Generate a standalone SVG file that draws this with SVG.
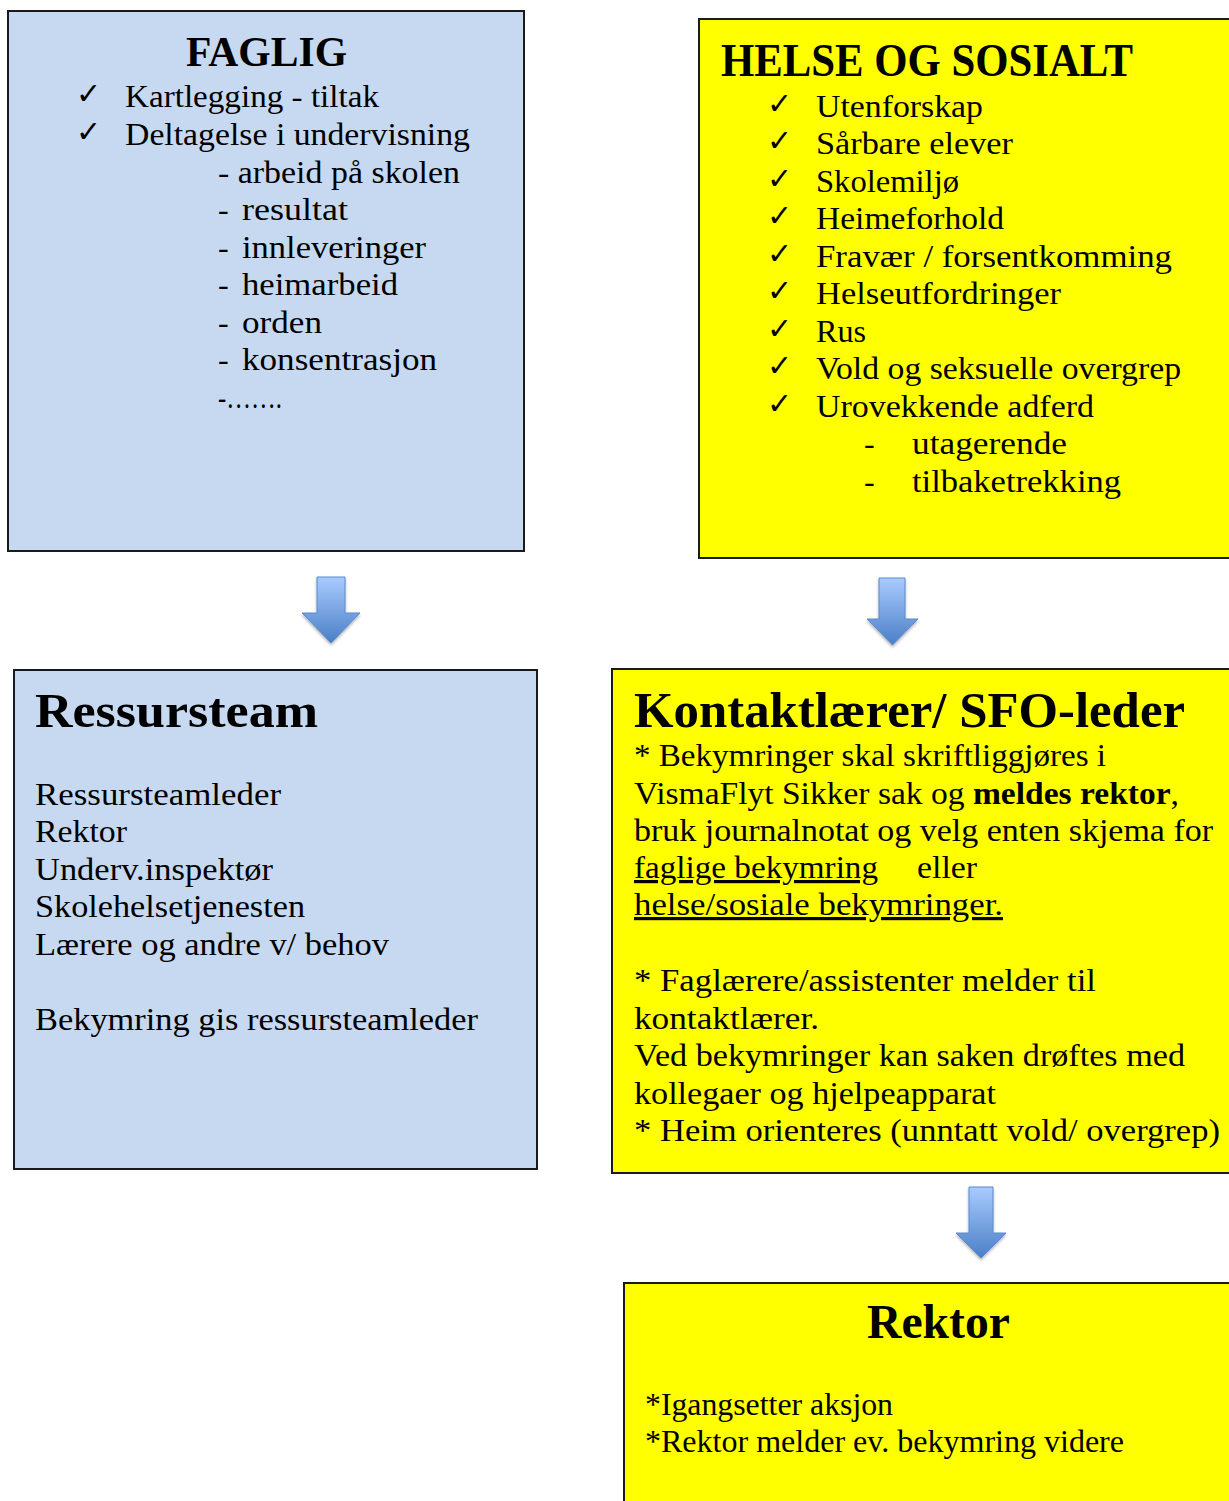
<svg xmlns="http://www.w3.org/2000/svg" width="1229" height="1501" viewBox="0 0 1229 1501">
<defs>
<style>
.box{stroke:#1a1a1a;stroke-width:2}
.blue{fill:#C6D9F1}
.yel{fill:#FFFF00}
.t{font-family:"Liberation Serif","Times New Roman",serif;font-size:32px;fill:#000}
.tb{font-family:"Liberation Serif","Times New Roman",serif;font-weight:bold;fill:#000}
.ck{font-family:"DejaVu Sans",sans-serif;font-size:30px;font-weight:bold;fill:#000}
.r{font-family:"Liberation Serif","Times New Roman",serif;font-size:32px;fill:#000}
.arr{fill:url(#ag);stroke:#5a8ace;stroke-width:1;filter:url(#sh)}
</style>
<linearGradient id="ag" x1="0" y1="0" x2="0" y2="1">
<stop offset="0" stop-color="#a9cbff"/>
<stop offset="1" stop-color="#4a7fc6"/>
</linearGradient>
<filter id="sh" x="-30%" y="-20%" width="160%" height="150%">
<feDropShadow dx="0" dy="2" stdDeviation="1.5" flood-color="#000" flood-opacity="0.3"/>
</filter>
</defs>
<rect width="1229" height="1501" fill="#fff"/>

<g id="faglig">
<rect class="box blue" x="8" y="11" width="516" height="540"/>
<text class="tb" x="186" y="66" font-size="42" textLength="161" lengthAdjust="spacingAndGlyphs">FAGLIG</text>
<text class="ck" x="76" y="104">✓</text>
<text class="t" x="125" y="107" textLength="254" lengthAdjust="spacingAndGlyphs">Kartlegging - tiltak</text>
<text class="ck" x="76" y="142">✓</text>
<text class="t" x="125" y="145" textLength="345" lengthAdjust="spacingAndGlyphs">Deltagelse i undervisning</text>
<text class="t" x="218" y="183" textLength="242" lengthAdjust="spacingAndGlyphs">- arbeid på skolen</text>
<text class="t" x="218" y="220">-</text><text class="t" x="242" y="220" textLength="106" lengthAdjust="spacingAndGlyphs">resultat</text>
<text class="t" x="218" y="258">-</text><text class="t" x="242" y="258" textLength="184" lengthAdjust="spacingAndGlyphs">innleveringer</text>
<text class="t" x="218" y="295">-</text><text class="t" x="242" y="295" textLength="156" lengthAdjust="spacingAndGlyphs">heimarbeid</text>
<text class="t" x="218" y="333">-</text><text class="t" x="242" y="333" textLength="80" lengthAdjust="spacingAndGlyphs">orden</text>
<text class="t" x="218" y="370">-</text><text class="t" x="242" y="370" textLength="195" lengthAdjust="spacingAndGlyphs">konsentrasjon</text>
<text class="t" x="218" y="408" textLength="64" lengthAdjust="spacingAndGlyphs">-…….</text>
</g>

<g id="helse">
<rect class="box yel" x="699" y="19" width="545" height="539"/>
<text class="tb" x="721" y="76" font-size="46" textLength="412" lengthAdjust="spacingAndGlyphs">HELSE OG SOSIALT</text>
<text class="ck" x="767" y="114">✓</text><text class="t" x="816" y="117" textLength="167" lengthAdjust="spacingAndGlyphs">Utenforskap</text>
<text class="ck" x="767" y="151">✓</text><text class="t" x="816" y="154" textLength="197" lengthAdjust="spacingAndGlyphs">Sårbare elever</text>
<text class="ck" x="767" y="189">✓</text><text class="t" x="816" y="192" textLength="143" lengthAdjust="spacingAndGlyphs">Skolemiljø</text>
<text class="ck" x="767" y="226">✓</text><text class="t" x="816" y="229" textLength="188" lengthAdjust="spacingAndGlyphs">Heimeforhold</text>
<text class="ck" x="767" y="264">✓</text><text class="t" x="816" y="267" textLength="356" lengthAdjust="spacingAndGlyphs">Fravær / forsentkomming</text>
<text class="ck" x="767" y="301">✓</text><text class="t" x="816" y="304" textLength="245" lengthAdjust="spacingAndGlyphs">Helseutfordringer</text>
<text class="ck" x="767" y="339">✓</text><text class="t" x="816" y="342" textLength="50" lengthAdjust="spacingAndGlyphs">Rus</text>
<text class="ck" x="767" y="376">✓</text><text class="t" x="816" y="379" textLength="365" lengthAdjust="spacingAndGlyphs">Vold og seksuelle overgrep</text>
<text class="ck" x="767" y="414">✓</text><text class="t" x="816" y="417" textLength="278" lengthAdjust="spacingAndGlyphs">Urovekkende adferd</text>
<text class="t" x="864" y="454">-</text><text class="t" x="912" y="454" textLength="155" lengthAdjust="spacingAndGlyphs">utagerende</text>
<text class="t" x="864" y="492">-</text><text class="t" x="912" y="492" textLength="209" lengthAdjust="spacingAndGlyphs">tilbaketrekking</text>
</g>

<g id="ressursteam">
<rect class="box blue" x="14" y="670" width="523" height="499"/>
<text class="tb" x="35" y="727" font-size="48" textLength="283" lengthAdjust="spacingAndGlyphs">Ressursteam</text>
<text class="t" x="35" y="805" textLength="246" lengthAdjust="spacingAndGlyphs">Ressursteamleder</text>
<text class="t" x="35" y="842" textLength="92" lengthAdjust="spacingAndGlyphs">Rektor</text>
<text class="t" x="35" y="880" textLength="238" lengthAdjust="spacingAndGlyphs">Underv.inspektør</text>
<text class="t" x="35" y="917" textLength="270" lengthAdjust="spacingAndGlyphs">Skolehelsetjenesten</text>
<text class="t" x="35" y="955" textLength="354" lengthAdjust="spacingAndGlyphs">Lærere og andre v/ behov</text>
<text class="t" x="35" y="1030" textLength="443" lengthAdjust="spacingAndGlyphs">Bekymring gis ressursteamleder</text>
</g>

<g id="kontakt">
<rect class="box yel" x="612" y="669" width="632" height="504"/>
<text class="tb" x="634" y="727" font-size="50" textLength="551" lengthAdjust="spacingAndGlyphs">Kontaktlærer/ SFO-leder</text>
<text class="t" x="634" y="766" textLength="472" lengthAdjust="spacingAndGlyphs">* Bekymringer skal skriftliggjøres i</text>
<text class="t" x="634" y="804" textLength="545" lengthAdjust="spacingAndGlyphs">VismaFlyt Sikker sak og <tspan font-weight="bold">meldes rektor</tspan>,</text>
<text class="t" x="634" y="841" textLength="579" lengthAdjust="spacingAndGlyphs">bruk journalnotat og velg enten skjema for</text>
<text class="t" x="634" y="878" text-decoration="underline" textLength="244" lengthAdjust="spacingAndGlyphs">faglige bekymring</text>
<text class="t" x="917" y="878" textLength="60" lengthAdjust="spacingAndGlyphs">eller</text>
<text class="t" x="634" y="915" text-decoration="underline" textLength="369" lengthAdjust="spacingAndGlyphs">helse/sosiale bekymringer.</text>
<text class="t" x="634" y="991" textLength="462" lengthAdjust="spacingAndGlyphs">* Faglærere/assistenter melder til</text>
<text class="t" x="634" y="1029" textLength="185" lengthAdjust="spacingAndGlyphs">kontaktlærer.</text>
<text class="t" x="634" y="1066" textLength="551" lengthAdjust="spacingAndGlyphs">Ved bekymringer kan saken drøftes med</text>
<text class="t" x="634" y="1104" textLength="362" lengthAdjust="spacingAndGlyphs">kollegaer og hjelpeapparat</text>
<text class="t" x="634" y="1141" textLength="586" lengthAdjust="spacingAndGlyphs">* Heim orienteres (unntatt vold/ overgrep)</text>
</g>

<g id="rektor">
<rect class="box yel" x="624" y="1283" width="620" height="230"/>
<text class="tb" x="867" y="1338" font-size="48" textLength="143" lengthAdjust="spacingAndGlyphs">Rektor</text>
<text class="r" x="645" y="1415" textLength="248" lengthAdjust="spacingAndGlyphs">*Igangsetter aksjon</text>
<text class="r" x="645" y="1452" textLength="479" lengthAdjust="spacingAndGlyphs">*Rektor melder ev. bekymring videre</text>
</g>

<g id="connectors">
<path class="arr" d="M317,577 H345 V613 H360 L331,643 L302,613 H317 Z"/>
<path class="arr" d="M879,578 H905 V619 H918 L892.5,645 L867,619 H879 Z"/>
<path class="arr" d="M969,1187 H993 V1233 H1006 L981,1258 L956,1233 H969 Z"/>
</g>
</svg>
